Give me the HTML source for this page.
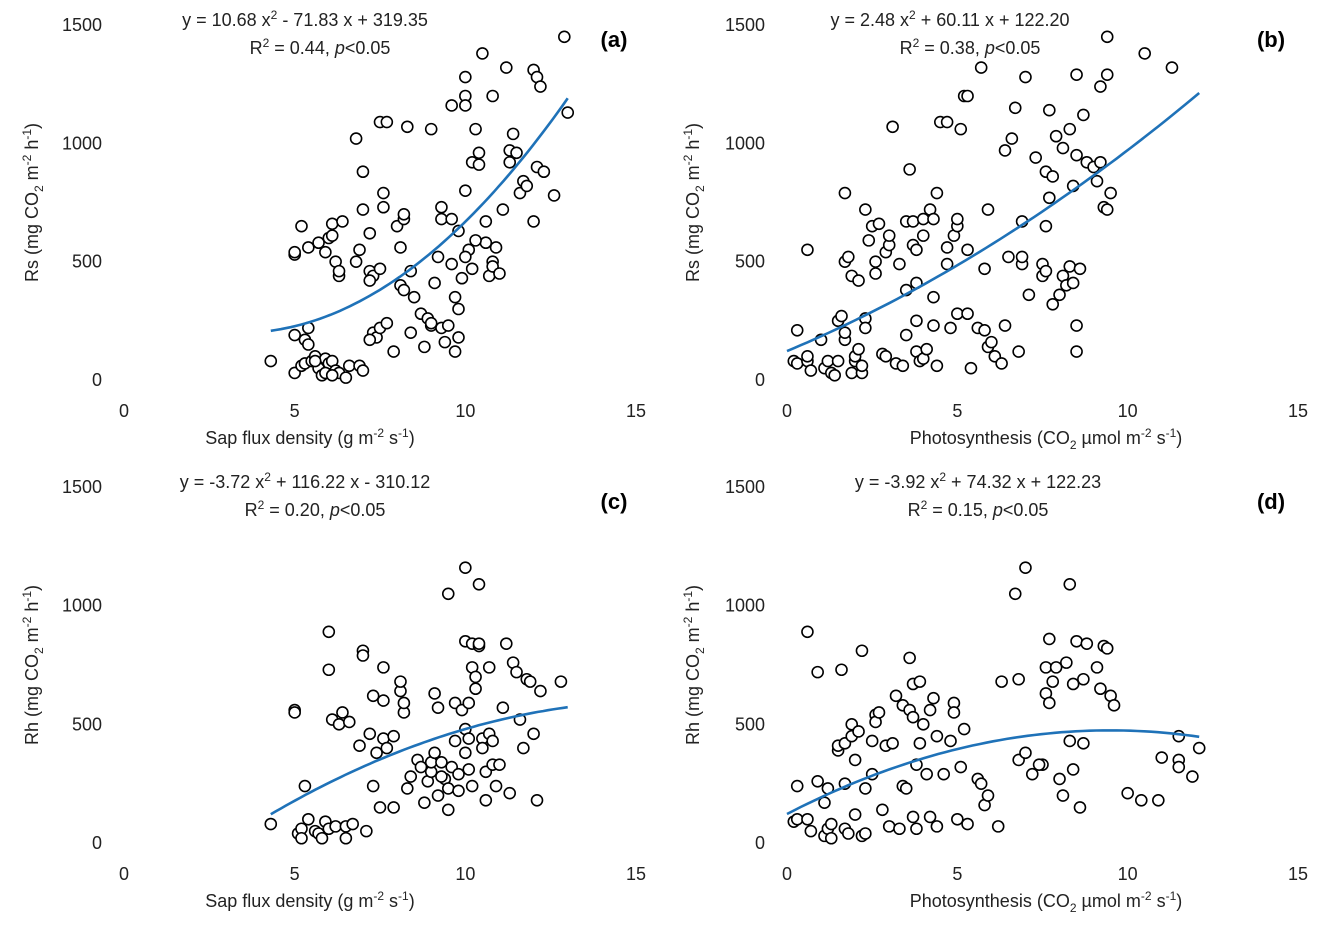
<!DOCTYPE html>
<html><head><meta charset="utf-8">
<style>
body{margin:0;background:#fff;}
svg{font-family:"Liberation Sans",sans-serif;}
</style></head>
<body>
<svg id="chart" width="1336" height="932" xmlns="http://www.w3.org/2000/svg"></svg>
<script>
const xTicks=[0,5,10,15];
const yTicks=[0,500,1000,1500];
const sapA=[[4.3,80],[5,530],[5,540],[5.2,650],[5.4,560],[5.7,580],[5.9,540],[6,600],[6.1,610],[6.1,660],[6.2,500],[6.3,440],[6.3,460],[6.4,670],[5,190],[5.4,220],[5.3,170],[5.4,150],[5,30],[5.2,60],[5.3,70],[5.5,80],[5.6,100],[5.7,50],[5.8,20],[5.9,90],[6,70],[6.1,80],[6.2,40],[6.3,30],[6.5,10],[6.6,60],[6.9,60],[7,40],[5.6,80],[5.9,30],[6.1,20],[6.8,1020],[7,880],[6.9,550],[6.8,500],[7,720],[7.2,620],[7.2,460],[7.3,440],[7.2,420],[7.5,470],[7.6,790],[7.6,730],[7.5,1090],[7.7,1090],[7.3,200],[7.4,180],[7.5,220],[7.7,240],[7.2,170],[7.9,120],[8,650],[8.1,560],[8.2,680],[8.2,700],[8.1,400],[8.2,380],[8.3,1070],[8.5,350],[8.4,200],[8.4,460],[8.7,280],[8.9,260],[8.8,140],[9,1060],[9,230],[9,240],[9.1,410],[9.2,520],[9.3,730],[9.3,680],[9.4,160],[9.3,220],[9.5,230],[9.6,1160],[9.6,680],[9.6,490],[9.7,350],[9.8,630],[9.8,300],[9.8,180],[9.7,120],[9.9,430],[10,1280],[10,1200],[10,1160],[10,800],[10.1,550],[10.2,920],[10.2,470],[10,520],[10.3,1060],[10.4,960],[10.4,910],[10.5,1380],[10.6,670],[10.6,580],[10.7,440],[10.3,590],[10.8,1200],[10.8,500],[10.8,480],[10.9,560],[11,450],[11.1,720],[11.2,1320],[11.3,970],[11.4,1040],[11.5,960],[11.6,790],[11.7,840],[11.8,820],[12,1310],[12,670],[12.1,900],[12.1,1280],[12.2,1240],[12.3,880],[12.6,780],[12.9,1450],[13,1130],[11.3,920]];
const photoB=[[0.2,80],[0.3,70],[0.3,210],[0.6,550],[0.6,80],[0.7,40],[0.6,100],[1,170],[1.1,50],[1.2,80],[1.3,30],[1.4,20],[1.5,80],[1.5,250],[1.6,270],[1.7,170],[1.7,200],[1.7,790],[1.7,500],[1.8,520],[1.9,440],[1.9,30],[2,80],[2,100],[2.1,420],[2.1,130],[2.2,30],[2.2,60],[2.3,260],[2.3,220],[2.3,720],[2.4,590],[2.5,650],[2.6,500],[2.6,450],[2.7,660],[2.8,110],[2.9,100],[2.9,540],[3,570],[3,610],[3.1,1070],[3.2,70],[3.3,490],[3.4,60],[3.5,190],[3.5,380],[3.5,670],[3.6,890],[3.7,670],[3.7,570],[3.8,550],[3.8,410],[3.8,250],[3.8,120],[3.9,80],[4,680],[4,90],[4,610],[4.1,130],[4.2,720],[4.3,350],[4.3,230],[4.3,680],[4.4,790],[4.4,60],[4.5,1090],[4.7,1090],[4.7,490],[4.7,560],[4.8,220],[4.9,610],[5,280],[5,650],[5,680],[5.1,1060],[5.2,1200],[5.3,1200],[5.3,550],[5.3,280],[5.4,50],[5.6,220],[5.7,1320],[5.8,210],[5.9,720],[5.8,470],[5.9,140],[6,160],[6.1,100],[6.3,70],[6.4,230],[6.4,970],[6.5,520],[6.6,1020],[6.7,1150],[6.8,120],[6.9,490],[6.9,520],[6.9,670],[7,1280],[7.1,360],[7.3,940],[7.5,440],[7.5,490],[7.6,460],[7.6,880],[7.6,650],[7.7,1140],[7.7,770],[7.8,320],[7.8,860],[7.9,1030],[8,360],[8.1,980],[8.1,440],[8.2,400],[8.3,1060],[8.3,480],[8.4,820],[8.4,410],[8.5,950],[8.5,1290],[8.5,230],[8.5,120],[8.6,470],[8.7,1120],[8.8,920],[9,900],[9.1,840],[9.2,920],[9.2,1240],[9.3,730],[9.4,1450],[9.4,1290],[9.4,720],[9.5,790],[10.5,1380],[11.3,1320]];
const sapC=[[4.3,80],[5,560],[5,550],[5.1,40],[5.2,60],[5.2,20],[5.4,100],[5.3,240],[5.6,50],[5.7,40],[5.8,20],[5.9,90],[6,60],[6,890],[6,730],[6.1,520],[6.2,70],[6.3,500],[6.4,550],[6.5,70],[6.5,20],[6.6,510],[6.7,80],[6.9,410],[7,810],[7,790],[7.1,50],[7.2,460],[7.3,620],[7.3,240],[7.4,380],[7.5,150],[7.6,600],[7.6,740],[7.6,440],[7.7,400],[7.9,450],[7.9,150],[8.1,640],[8.1,680],[8.2,550],[8.2,590],[8.3,230],[8.4,280],[8.6,350],[8.7,320],[8.8,170],[8.9,260],[9,300],[9,340],[9.1,630],[9.1,380],[9.2,570],[9.2,200],[9.3,340],[9.4,270],[9.5,1050],[9.5,140],[9.5,230],[9.6,320],[9.7,590],[9.7,430],[9.8,220],[9.8,290],[9.9,560],[10,1160],[10,850],[10,480],[10,380],[10.1,310],[10.1,590],[10.2,840],[10.2,740],[10.3,700],[10.3,650],[10.4,1090],[10.4,830],[10.4,840],[10.5,440],[10.5,400],[10.6,300],[10.6,180],[10.7,460],[10.7,740],[10.8,330],[10.9,240],[11,330],[11.1,570],[11.2,840],[11.3,210],[11.4,760],[11.5,720],[11.6,520],[11.7,400],[11.8,690],[11.9,680],[12,460],[12.1,180],[12.2,640],[12.8,680],[10.8,430],[10.2,240],[9.3,280],[10.1,440]];
const photoD=[[0.2,90],[0.3,100],[0.3,240],[0.6,890],[0.6,100],[0.7,50],[0.9,260],[0.9,720],[1.1,30],[1.1,170],[1.2,230],[1.2,60],[1.3,80],[1.3,20],[1.5,390],[1.5,410],[1.6,730],[1.7,250],[1.7,420],[1.7,60],[1.8,40],[1.9,450],[1.9,500],[2,350],[2,120],[2.1,470],[2.2,810],[2.2,30],[2.3,230],[2.3,40],[2.5,430],[2.5,290],[2.6,540],[2.6,510],[2.7,550],[2.8,140],[2.9,410],[3,70],[3.1,420],[3.2,620],[3.3,60],[3.4,240],[3.4,580],[3.5,230],[3.6,560],[3.6,780],[3.7,530],[3.7,670],[3.7,110],[3.8,330],[3.8,60],[3.9,420],[4,500],[4.1,290],[4.2,110],[4.2,560],[4.3,610],[4.4,450],[4.4,70],[4.6,290],[4.8,430],[4.9,590],[4.9,550],[5,100],[5.1,320],[5.2,480],[5.3,80],[5.6,270],[5.7,250],[5.8,160],[5.9,200],[6.2,70],[6.3,680],[6.7,1050],[6.8,350],[6.8,690],[7,1160],[7,380],[7.2,290],[7.5,330],[7.6,740],[7.6,630],[7.7,590],[7.7,860],[7.8,680],[7.9,740],[8,270],[8.1,200],[8.2,760],[8.3,430],[8.3,1090],[8.4,310],[8.4,670],[8.5,850],[8.6,150],[8.7,690],[8.7,420],[8.8,840],[9.2,650],[9.3,830],[9.4,820],[9.5,620],[9.6,580],[10,210],[10.4,180],[10.9,180],[11,360],[11.5,450],[11.5,350],[11.5,320],[11.9,280],[12.1,400],[9.1,740],[7.4,330],[3.9,680]];
const coefA=[10.68,-71.83,319.35], coefB=[2.48,60.11,122.20], coefC=[-3.72,116.22,-310.12], coefD=[-3.92,74.32,122.23];
const rangeA=[4.3,13], rangeB=[0,12.1], rangeC=[4.3,13], rangeD=[0,12.1];

const NS="http://www.w3.org/2000/svg";
const svg=document.getElementById('chart');
function mk(tag,attrs,parent){const e=document.createElementNS(NS,tag);for(const k in attrs)e.setAttribute(k,attrs[k]);(parent||svg).appendChild(e);return e;}

const panels=[
 {id:'a',x0:124,x1:636,y0:380,y1:25,pts:sapA,coef:coefA,rng:rangeA,xt:'sap',yt:'Rs',eq:['y = 10.68 x','2',' - 71.83 x + 319.35'],r2:'0.44',eqx:305,r2x:320,lab:614,ytx:38},
 {id:'b',x0:787,x1:1298,y0:380,y1:25,pts:photoB,coef:coefB,rng:rangeB,xt:'photo',yt:'Rs',eq:['y = 2.48 x','2',' + 60.11 x + 122.20'],r2:'0.38',eqx:950,r2x:970,lab:1271,ytx:699},
 {id:'c',x0:124,x1:636,y0:843,y1:487,pts:sapC,coef:coefC,rng:rangeC,xt:'sap',yt:'Rh',eq:['y = -3.72 x','2',' + 116.22 x - 310.12'],r2:'0.20',eqx:305,r2x:315,lab:614,ytx:38},
 {id:'d',x0:787,x1:1298,y0:843,y1:487,pts:photoD,coef:coefD,rng:rangeD,xt:'photo',yt:'Rh',eq:['y = -3.92 x','2',' + 74.32 x + 122.23'],r2:'0.15',eqx:978,r2x:978,lab:1271,ytx:699}
];

panels.forEach(p=>{
 const g=mk('g',{});
 
 
 const sx=v=>p.x0+(v/15)*(p.x1-p.x0);
 const sy=v=>p.y0-(v/1500)*(p.y0-p.y1);
 yTicks.forEach(t=>{const e=mk('text',{x:p.x0-22,y:sy(t)+6,'text-anchor':'end','font-size':18,fill:'#222'},g);e.textContent=t;
  
  });
 xTicks.forEach(t=>{const e=mk('text',{x:sx(t),y:p.y0+37,'text-anchor':'middle','font-size':18,fill:'#222'},g);e.textContent=t;
  
  });
 const cx=(p.x0+p.x1)/2, ty=p.y0+64;
 const xt=mk('text',{x:p.xt==='sap'?310:1046,y:ty,'text-anchor':'middle','font-size':18,fill:'#222'},g);
 
 
 if(p.xt==='sap') xt.innerHTML='Sap flux density (g m<tspan dy="-7" font-size="12">-2</tspan><tspan dy="7"> s</tspan><tspan dy="-7" font-size="12">-1</tspan><tspan dy="7">)</tspan>';
 else xt.innerHTML='Photosynthesis (CO<tspan dy="5" font-size="12">2</tspan><tspan dy="-5"> µmol m</tspan><tspan dy="-7" font-size="12">-2</tspan><tspan dy="7"> s</tspan><tspan dy="-7" font-size="12">-1</tspan><tspan dy="7">)</tspan>';
 const ymid=(p.y0+p.y1)/2;
 const yt=mk('text',{x:0,y:0,'text-anchor':'middle','font-size':18,fill:'#222',transform:`translate(${p.ytx},${ymid}) rotate(-90)`},g);
 
 
 yt.innerHTML=p.yt+' (mg CO<tspan dy="5" font-size="12">2</tspan><tspan dy="-5"> m</tspan><tspan dy="-7" font-size="12">-2</tspan><tspan dy="7"> h</tspan><tspan dy="-7" font-size="12">-1</tspan><tspan dy="7">)</tspan>';
 const eq=mk('text',{x:p.eqx,y:p.y1+1,'text-anchor':'middle','font-size':18,fill:'#222'},g);
 
 
 eq.innerHTML=p.eq[0]+'<tspan dy="-7" font-size="12">'+p.eq[1]+'</tspan><tspan dy="7">'+p.eq[2]+'</tspan>';
 const r2=mk('text',{x:p.r2x,y:p.y1+29,'text-anchor':'middle','font-size':18,fill:'#222'},g);
 
 
 r2.innerHTML='R<tspan dy="-7" font-size="12">2</tspan><tspan dy="7"> = '+p.r2+', </tspan><tspan font-style="italic">p</tspan>&lt;0.05';
 const lb=mk('text',{x:p.lab,y:p.y1+22,'text-anchor':'middle','font-size':22,'font-weight':'bold',fill:'#000'},g);
 lb.textContent='('+p.id+')';
 
 
 p.pts.forEach(d=>{const c=mk('circle',{cx:sx(d[0]),cy:sy(d[1]),r:5.5,fill:'#fff',stroke:'#000','stroke-width':1.6},g);
  
  });
 let dstr='';
 for(let i=0;i<=60;i++){const x=p.rng[0]+(p.rng[1]-p.rng[0])*i/60;const y=p.coef[0]*x*x+p.coef[1]*x+p.coef[2];dstr+=(i?'L':'M')+sx(x).toFixed(1)+','+sy(y).toFixed(1);}
 const fit=mk('path',{d:dstr,fill:'none',stroke:'#1f72b8','stroke-width':2.6},g);
 
 
});
</script>
</body></html>
